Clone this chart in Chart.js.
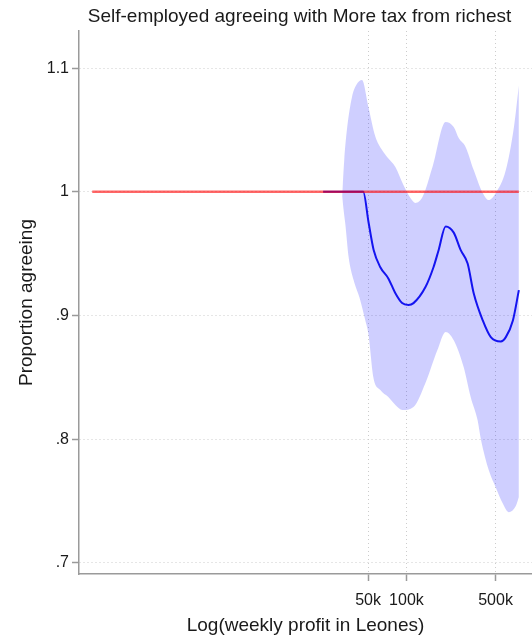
<!DOCTYPE html>
<html>
<head>
<meta charset="utf-8">
<script src="https://cdn.jsdelivr.net/npm/chart.js@4/dist/chart.umd.min.js"></script>
<style>
  html, body { margin: 0; padding: 0; background: #ffffff; }
  canvas { display: block; }
</style>
</head>
<body>
<canvas id="chart" width="532" height="642"></canvas>
<script>
// Smoothed share agreeing, by weekly profit (Leones, log scale)
const fitProfit = [22200, 45800, 50500, 55300, 62400, 72100, 81900, 92500, 103700, 113600, 141000, 163000, 179000, 203000, 235000, 266000, 302000, 337000, 397000, 459000, 550000, 602000, 684000, 762000];
const fitShare  = [1.0, 1.0, 0.975, 0.953, 0.939, 0.930, 0.918, 0.910, 0.9085, 0.910, 0.923, 0.939, 0.953, 0.972, 0.967, 0.953, 0.942, 0.918, 0.896, 0.8825, 0.879, 0.8825, 0.896, 0.9205];

// Upper bound of the confidence band
const upperProfit = [31300, 32500, 34100, 37400, 40400, 44800, 50200, 57000, 64400, 70800, 81900, 94700, 107500, 117700, 133600, 160000, 203000, 235000, 257000, 291000, 337000, 397000, 442000, 502000, 602000, 697000, 762000];
const upperShare  = [0.9965, 1.0256, 1.0499, 1.0766, 1.0863, 1.0903, 1.069, 1.0447, 1.0337, 1.028, 1.020, 1.0054, 0.995, 0.991, 0.9957, 1.020, 1.0564, 1.0523, 1.0434, 1.0362, 1.0176, 0.999, 0.9933, 0.999, 1.0176, 1.0523, 1.086];

// Lower bound of the confidence band
const lowerProfit = [31300, 32500, 33100, 35200, 38500, 43400, 47600, 50200, 55000, 62400, 72100, 81900, 93000, 113600, 141000, 175000, 203000, 235000, 281000, 319000, 362000, 383000, 442000, 502000, 570000, 636000, 721000, 762000];
const lowerShare  = [0.9965, 0.981, 0.9746, 0.947, 0.9286, 0.9124, 0.896, 0.8858, 0.850, 0.8397, 0.834, 0.8276, 0.8235, 0.826, 0.8454, 0.872, 0.8867, 0.880, 0.8583, 0.834, 0.815, 0.8003, 0.775, 0.761, 0.748, 0.741, 0.746, 0.753];

// Reference line: everyone agreeing
const refProfit = [343, 762000];
const refShare  = [1, 1];

const xTicks = [50000, 100000, 500000];
const xTickLabels = ['50k', '100k', '500k'];
const yTicks = [0.7, 0.8, 0.9, 1, 1.1];
const yTickLabels = ['.7', '.8', '.9', '1', '1.1'];

const titleText = 'Self-employed agreeing with More tax from richest';
const FONT = '"Liberation Sans", Arial, Helvetica, sans-serif';
const TEXT = '#1a1a1a';

const pts = (xs, ys) => xs.map((x, i) => ({ x: x, y: ys[i] }));

const whiteBackground = {
  id: 'whiteBackground',
  beforeDraw(chart) {
    const { ctx, width, height } = chart;
    ctx.save();
    ctx.fillStyle = '#ffffff';
    ctx.fillRect(0, 0, width, height);
    ctx.restore();
  }
};

// Title drawn over the plotting area
const plotTitle = {
  id: 'plotTitle',
  afterDraw(chart) {
    const { ctx, chartArea } = chart;
    ctx.save();
    ctx.font = '19px ' + FONT;
    ctx.fillStyle = TEXT;
    ctx.textAlign = 'center';
    ctx.textBaseline = 'middle';
    ctx.fillText(titleText, (chartArea.left + chartArea.right) / 2 - 6, 17);
    ctx.restore();
  }
};

new Chart(document.getElementById('chart'), {
  type: 'line',
  data: {
    datasets: [
      {
        data: pts(refProfit, refShare),
        borderColor: 'rgba(255, 0, 0, 0.6)',
        borderWidth: 2.5,
        pointRadius: 0,
        fill: false,
        tension: 0
      },
      {
        data: pts(fitProfit, fitShare),
        borderColor: '#1414f0',
        borderWidth: 2,
        pointRadius: 0,
        fill: false,
        cubicInterpolationMode: 'monotone'
      },
      {
        data: pts(upperProfit, upperShare),
        borderColor: 'rgba(0,0,0,0)',
        borderWidth: 0,
        backgroundColor: 'rgba(0, 0, 255, 0.19)',
        pointRadius: 0,
        fill: '+1',
        cubicInterpolationMode: 'monotone'
      },
      {
        data: pts(lowerProfit, lowerShare),
        borderColor: 'rgba(0,0,0,0)',
        borderWidth: 0,
        pointRadius: 0,
        fill: false,
        cubicInterpolationMode: 'monotone'
      }
    ]
  },
  options: {
    responsive: false,
    animation: false,
    devicePixelRatio: 1,
    layout: { padding: { top: 31, right: 0, left: 0, bottom: 0 } },
    plugins: {
      legend: { display: false },
      tooltip: { enabled: false },
      title: { display: false }
    },
    scales: {
      x: {
        type: 'logarithmic',
        min: 270,
        max: 966000,
        afterBuildTicks: s => { s.ticks = xTicks.map(v => ({ value: v })); },
        afterFit: s => { s.height = 68; },
        ticks: {
          autoSkip: false,
          maxRotation: 0,
          padding: 10,
          color: TEXT,
          font: { family: FONT, size: 16 },
          callback: (v, i) => xTickLabels[i]
        },
        grid: { color: '#cccccc', lineWidth: 1, tickColor: '#9a9a9a', tickLength: 7, tickWidth: 1.5 },
        border: { display: true, color: '#9a9a9a', width: 1.5, dash: [1, 3] },
        title: {
          display: true,
          text: 'Log(weekly profit in Leones)',
          color: TEXT,
          font: { family: FONT, size: 19, lineHeight: 1.2 },
          padding: { top: 0, bottom: 5 }
        }
      },
      y: {
        min: 0.691,
        max: 1.13,
        afterBuildTicks: s => { s.ticks = yTicks.map(v => ({ value: v })); },
        afterFit: s => { s.width = 79; },
        ticks: {
          padding: 3,
          color: TEXT,
          font: { family: FONT, size: 16 },
          callback: (v, i) => yTickLabels[i]
        },
        grid: { color: '#cccccc', lineWidth: 1, tickColor: '#9a9a9a', tickLength: 7, tickWidth: 1.5 },
        border: { display: true, color: '#9a9a9a', width: 1.5, dash: [1, 3] },
        title: {
          display: true,
          text: 'Proportion agreeing',
          color: TEXT,
          font: { family: FONT, size: 19, lineHeight: 1.2 },
          padding: { top: 15, bottom: 0 }
        }
      }
    }
  },
  plugins: [whiteBackground, plotTitle]
});
</script>
</body>
</html>
